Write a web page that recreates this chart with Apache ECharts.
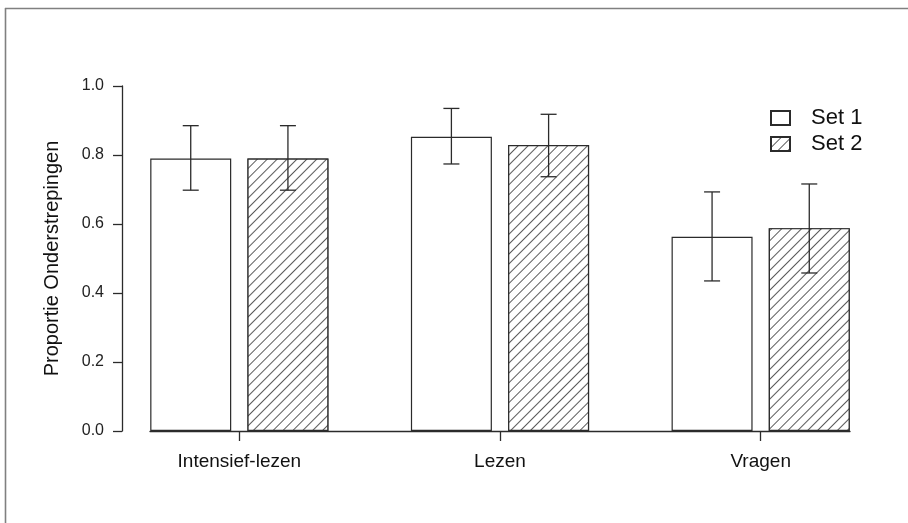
<!DOCTYPE html>
<html>
<head>
<meta charset="utf-8">
<script src="https://cdn.jsdelivr.net/npm/echarts@6/dist/echarts.min.js"></script>
<style>
html,body{margin:0;padding:0;background:#fff;}
#chart{width:908px;height:523px;}
</style>
</head>
<body>
<div id="chart"></div>
<script>
// ---- data ----
const categories = ['Intensief-lezen', 'Lezen', 'Vragen'];
const seriesNames = ['Set 1', 'Set 2'];
const set1Values = [0.790, 0.853, 0.563];
const set1Lower  = [0.698, 0.774, 0.435];
const set1Upper  = [0.885, 0.935, 0.693];
const set2Values = [0.790, 0.829, 0.588];
const set2Lower  = [0.698, 0.737, 0.458];
const set2Upper  = [0.885, 0.918, 0.716];
const yTicks = [0, 0.2, 0.4, 0.6, 0.8, 1.0];

// ---- style ----
const FONT = 'Liberation Sans, Arial, sans-serif';
const BAR_W = 81;          // px
const BAR_GAP_RATIO = 0.2; // gap between bars in a group, relative to bar width
const HALF_PITCH = (BAR_W + BAR_W * BAR_GAP_RATIO) / 2;
const CAP_HALF = 8;
const INK = '#2b2b2b';
const X_PAD = 0.3427;      // axis extent beyond first/last group centre (axis units)

const chart = echarts.init(document.getElementById('chart'), null, {renderer: 'canvas'});

const xPos = categories.map((c, i) => i + 1);
const barData = (vals) => vals.map((v, i) => [xPos[i], v]);
const errData = (lo, hi) => lo.map((l, i) => [xPos[i], l, hi[i]]);

function errRender(offset) {
  return function (params, api) {
    const x = api.value(0);
    const top = api.coord([x, api.value(2)]);
    const bot = api.coord([x, api.value(1)]);
    const cx = top[0] + offset;
    const st = {stroke: INK, lineWidth: 1.3};
    return {
      type: 'group',
      children: [
        {type: 'line', shape: {x1: cx, y1: top[1], x2: cx, y2: bot[1]}, style: st},
        {type: 'line', shape: {x1: cx - CAP_HALF, y1: top[1], x2: cx + CAP_HALF, y2: top[1]}, style: st},
        {type: 'line', shape: {x1: cx - CAP_HALF, y1: bot[1], x2: cx + CAP_HALF, y2: bot[1]}, style: st}
      ]
    };
  };
}

const hatch = {
  symbol: 'rect',
  symbolSize: 1,
  dashArrayX: [1, 0],
  dashArrayY: [1, 5.5],
  rotation: -Math.PI / 4,
  color: '#5a5a5a',
  backgroundColor: '#fff'
};

const option = {
  animation: false,
  backgroundColor: '#fff',
  textStyle: {fontFamily: FONT},
  grid: {left: 150, right: 58, top: 86, bottom: 92, containLabel: false},
  legend: {
    orient: 'vertical',
    left: 770,
    top: 107,
    padding: 0,
    icon: 'rect',
    itemWidth: 19,
    itemHeight: 14,
    itemGap: 4,
    data: seriesNames,
    textStyle: {fontFamily: FONT, fontSize: 22, color: '#111', padding: [0, 0, 0, 16], lineHeight: 22}
  },
  xAxis: {
    type: 'value',
    min: xPos[0] - X_PAD,
    max: xPos[xPos.length - 1] + X_PAD,
    splitLine: {show: false},
    axisLine: {show: true, lineStyle: {color: INK, width: 1.3}},
    axisTick: {show: true, length: 10, customValues: xPos, lineStyle: {color: INK, width: 1.3}},
    axisLabel: {
      customValues: xPos,
      formatter: (v) => categories[Math.round(v) - 1] || '',
      fontFamily: FONT, fontSize: 19, color: '#111', margin: 21
    }
  },
  yAxis: {
    type: 'value',
    min: 0, max: 1, interval: 0.2,
    offset: 28,
    name: 'Proportie Onderstrepingen',
    nameLocation: 'middle',
    nameGap: 60,
    nameRotate: 90,
    nameTextStyle: {fontFamily: FONT, fontSize: 20, color: '#111'},
    splitLine: {show: false},
    axisLine: {show: true, lineStyle: {color: INK, width: 1.3}},
    axisTick: {show: true, length: 9, lineStyle: {color: INK, width: 1.3}},
    axisLabel: {
      fontFamily: FONT, fontSize: 16, color: '#222', margin: 18,
      customValues: yTicks,
      formatter: (v) => v.toFixed(1)
    }
  },
  series: [
    {
      name: seriesNames[0], type: 'bar', barWidth: BAR_W, barGap: (BAR_GAP_RATIO * 100) + '%',
      data: barData(set1Values),
      itemStyle: {color: '#fff', borderColor: INK, borderWidth: 1.2}
    },
    {
      name: seriesNames[1], type: 'bar', barWidth: BAR_W, barGap: (BAR_GAP_RATIO * 100) + '%',
      data: barData(set2Values),
      itemStyle: {color: '#fff', borderColor: INK, borderWidth: 1.2, decal: hatch}
    },
    {
      type: 'custom', name: 'err1', renderItem: errRender(-HALF_PITCH),
      data: errData(set1Lower, set1Upper), encode: {x: 0, y: [1, 2]}, z: 5
    },
    {
      type: 'custom', name: 'err2', renderItem: errRender(HALF_PITCH),
      data: errData(set2Lower, set2Upper), encode: {x: 0, y: [1, 2]}, z: 5
    }
  ],
  graphic: [
    {type: 'line', shape: {x1: 5, y1: 8.5, x2: 908, y2: 8.5}, style: {stroke: '#808080', lineWidth: 1.6}, silent: true},
    {type: 'line', shape: {x1: 5.5, y1: 8, x2: 5.5, y2: 523}, style: {stroke: '#808080', lineWidth: 1.6}, silent: true}
  ]
};
chart.setOption(option);
</script>
</body>
</html>
